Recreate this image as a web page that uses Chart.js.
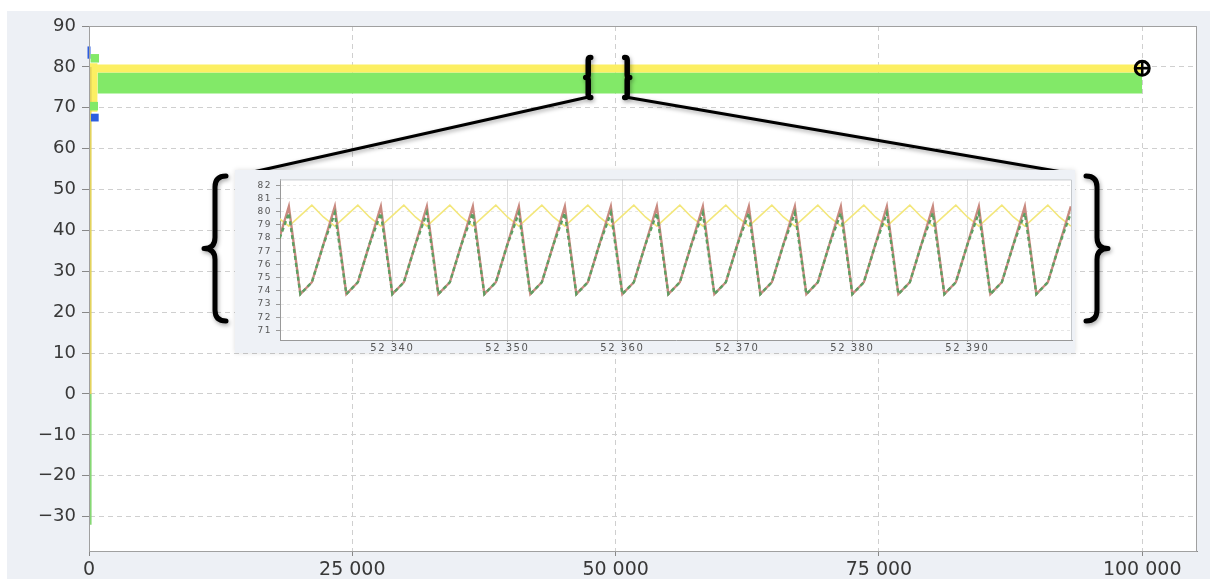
<!DOCTYPE html>
<html><head><meta charset="utf-8">
<script src="https://cdn.jsdelivr.net/npm/chart.js@4.4.1/dist/chart.umd.min.js"></script>
<style>
html,body{margin:0;padding:0;background:#fff;width:1218px;height:581px;overflow:hidden;}
#panel{position:absolute;left:7px;top:11px;width:1203px;height:568px;background:#edf0f5;}
#main{position:absolute;left:0;top:0;}
#inset{position:absolute;left:235px;top:170px;width:840px;height:183px;background:#eef1f6;box-shadow:0 0 5px rgba(0,0,0,0.13);}
#insetCanvas{position:absolute;left:0;top:0;}
</style></head><body>
<div id="panel"></div>
<canvas id="main" width="1218" height="581"></canvas>
<div id="inset"><canvas id="insetCanvas" width="840" height="183"></canvas></div>
<script>
// ---------- main chart data ----------
const yTickValues = [-30,-20,-10,0,10,20,30,40,50,60,70,80,90];
const xTickValues = [0,25000,50000,75000,100000];
const yellowBandX    = [0, 800, 800, 100000];
const yellowBandHigh = [80.9, 80.9, 80.6, 80.6];
const yellowBandLow  = [69.0, 69.0, 78.6, 78.6];
const greenBandX     = [800, 100000];
const greenBandHigh  = [78.6, 78.6];
const greenBandLow   = [73.5, 73.5];
const startSpikeX    = [150, 150];
const yellowSpikeY   = [80, 0];
const greenSpikeY    = [0, -32];
const blueSpikeX     = [0, 0];
const blueSpikeY     = [82, 85];
const blueDotX       = [550];
const blueDotY       = [67.6];
const greenDotX      = [550, 450];
const greenDotY      = [82.1, 70.4];
const endMarkerX     = [100000];
const endMarkerY     = [79.65];

// ---------- inset (zoom) data ----------
const insetXTicks = [52340,52350,52360,52370,52380,52390];
const insetYTicks = [71,72,73,74,75,76,77,78,79,80,81,82];
const insetX = [
 52330,52331,52332,52333,52334,52335,52336,52337,52338,52339,
 52340,52341,52342,52343,52344,52345,52346,52347,52348,52349,
 52350,52351,52352,52353,52354,52355,52356,52357,52358,52359,
 52360,52361,52362,52363,52364,52365,52366,52367,52368,52369,
 52370,52371,52372,52373,52374,52375,52376,52377,52378,52379,
 52380,52381,52382,52383,52384,52385,52386,52387,52388,52389,
 52390,52391,52392,52393,52394,52395,52396,52397,52398,52399];
const insetGreen = [
 77.5,79.9,73.75,74.65, 77.5,79.9,73.75,74.65, 77.5,79.9,73.75,74.65,
 77.5,79.9,73.75,74.65, 77.5,79.9,73.75,74.65, 77.5,79.9,73.75,74.65,
 77.5,79.9,73.75,74.65, 77.5,79.9,73.75,74.65, 77.5,79.9,73.75,74.65,
 77.5,79.9,73.75,74.65, 77.5,79.9,73.75,74.65, 77.5,79.9,73.75,74.65,
 77.5,79.9,73.75,74.65, 77.5,79.9,73.75,74.65, 77.5,79.9,73.75,74.65,
 77.5,79.9,73.75,74.65, 77.5,79.9,73.75,74.65, 77.5,79.9];
const insetRed = [
 77.5,80.4,73.75,74.65, 77.5,80.4,73.75,74.65, 77.5,80.4,73.75,74.65,
 77.5,80.4,73.75,74.65, 77.5,80.4,73.75,74.65, 77.5,80.4,73.75,74.65,
 77.5,80.4,73.75,74.65, 77.5,80.4,73.75,74.65, 77.5,80.4,73.75,74.65,
 77.5,80.4,73.75,74.65, 77.5,80.4,73.75,74.65, 77.5,80.4,73.75,74.65,
 77.5,80.4,73.75,74.65, 77.5,80.4,73.75,74.65, 77.5,80.4,73.75,74.65,
 77.5,80.4,73.75,74.65, 77.5,80.4,73.75,74.65, 77.5,80.4];
const insetYellow = [
 79.6,78.9,79.7,80.5, 79.6,78.9,79.7,80.5, 79.6,78.9,79.7,80.5,
 79.6,78.9,79.7,80.5, 79.6,78.9,79.7,80.5, 79.6,78.9,79.7,80.5,
 79.6,78.9,79.7,80.5, 79.6,78.9,79.7,80.5, 79.6,78.9,79.7,80.5,
 79.6,78.9,79.7,80.5, 79.6,78.9,79.7,80.5, 79.6,78.9,79.7,80.5,
 79.6,78.9,79.7,80.5, 79.6,78.9,79.7,80.5, 79.6,78.9,79.7,80.5,
 79.6,78.9,79.7,80.5, 79.6,78.9,79.7,80.5, 79.6,78.9];

const pts = (xs, ys) => xs.map((x, i) => ({x: x, y: ys[i]}));
const spaced = v => String(v).replace(/\B(?=(\d{3})+(?!\d))/g, ' ');
const FONT = "'DejaVu Sans', sans-serif";

const YELLOW = '#fcef62', GREEN = '#82e968';

function brace(ctx, xs, y1, y2, dir, w) {
  const m = (y1 + y2) / 2, h = w / 2;
  ctx.beginPath();
  ctx.moveTo(xs - dir * h, y1);
  ctx.quadraticCurveTo(xs, y1, xs, y1 + h);
  ctx.lineTo(xs, m - h);
  ctx.quadraticCurveTo(xs, m, xs + dir * h, m);
  ctx.quadraticCurveTo(xs, m, xs, m + h);
  ctx.lineTo(xs, y2 - h);
  ctx.quadraticCurveTo(xs, y2, xs - dir * h, y2);
  ctx.stroke();
}

const mainDecor = {
  id: 'mainDecor',
  beforeDraw(chart) {
    const {ctx, chartArea: a} = chart;
    ctx.save(); ctx.fillStyle = '#fff';
    ctx.fillRect(a.left, a.top, a.right - a.left, a.bottom - a.top);
    ctx.restore();
  },
  afterDraw(chart) {
    const {ctx, chartArea: a, scales} = chart;
    ctx.save();
    ctx.strokeStyle = '#a0a0a0'; ctx.lineWidth = 1;
    ctx.strokeRect(a.left + 0.5, a.top + 0.5, a.right - a.left - 1, a.bottom - a.top);
    // break marks + connector lines + braces
    const xL = scales.x.getPixelForValue(47400), xR = scales.x.getPixelForValue(51100);
    const yT = scales.y.getPixelForValue(82.3), yB = scales.y.getPixelForValue(72.5);
    ctx.strokeStyle = '#000'; ctx.lineCap = 'round'; ctx.lineJoin = 'round';
    ctx.shadowColor = 'rgba(0,0,0,0.35)'; ctx.shadowBlur = 4; ctx.shadowOffsetX = 1; ctx.shadowOffsetY = 2;
    ctx.lineWidth = 5.5;
    brace(ctx, xL, yT, yB, -1, 5);
    brace(ctx, xR, yT, yB, 1, 5);
    ctx.lineWidth = 3;
    ctx.beginPath(); ctx.moveTo(xL - 2, yB); ctx.lineTo(253, 172); ctx.stroke();
    ctx.beginPath(); ctx.moveTo(xR + 1, yB); ctx.lineTo(1062, 172); ctx.stroke();
    ctx.lineWidth = 5;
    brace(ctx, 215, 176, 321, -1, 22);
    brace(ctx, 1097, 176, 321, 1, 22);
    ctx.restore();
  }
};

new Chart(document.getElementById('main'), {
  type: 'line',
  data: {
    datasets: [
      {data: pts(endMarkerX, endMarkerY), showLine: false, pointStyle: 'cross', pointRadius: 7, borderColor: '#000', borderWidth: 2.5, clip: false},
      {data: pts(endMarkerX, endMarkerY), showLine: false, pointStyle: 'circle', pointRadius: 7, borderColor: '#000', backgroundColor: 'rgba(0,0,0,0)', borderWidth: 3, clip: false},
      {data: pts(blueDotX, blueDotY), showLine: false, pointStyle: 'rect', pointRadius: 5.5, backgroundColor: '#2c5de0', borderWidth: 0},
      {data: pts(greenDotX, greenDotY), showLine: false, pointStyle: 'rect', pointRadius: 6, backgroundColor: GREEN, borderWidth: 0},
      {data: pts(blueSpikeX, blueSpikeY), borderColor: '#2c5de0', borderWidth: 3, pointRadius: 0, clip: false},
      {data: pts(startSpikeX, yellowSpikeY), borderColor: '#e3d35c', borderWidth: 2, pointRadius: 0},
      {data: pts(startSpikeX, greenSpikeY), borderColor: '#86d874', borderWidth: 2, pointRadius: 0},
      {data: pts(yellowBandX, yellowBandHigh), borderWidth: 0, pointRadius: 0, fill: '+1', backgroundColor: YELLOW, borderColor: YELLOW},
      {data: pts(yellowBandX, yellowBandLow), borderWidth: 0, pointRadius: 0, borderColor: YELLOW},
      {data: pts(greenBandX, greenBandHigh), borderWidth: 0, pointRadius: 0, fill: '+1', backgroundColor: GREEN, borderColor: GREEN},
      {data: pts(greenBandX, greenBandLow), borderWidth: 0, pointRadius: 0, borderColor: GREEN}
    ]
  },
  options: {
    responsive: false, animation: false, parsing: false,
    layout: {padding: {left: 0, top: 26, right: 21, bottom: 0}},
    plugins: {legend: {display: false}, tooltip: {enabled: false}},
    elements: {line: {tension: 0}},
    scales: {
      x: {
        type: 'linear', min: 0, max: 105200,
        afterBuildTicks: s => { s.ticks = xTickValues.map(v => ({value: v})); },
        afterFit: s => { s.height = 30; },
        ticks: {callback: v => spaced(v), font: {family: FONT, size: 19}, color: '#383838', padding: 3, maxRotation: 0, autoSkip: false},
        grid: {color: '#cfcfcf', tickColor: '#888', tickLength: 5, lineWidth: 1},
        border: {color: '#888', width: 1, dash: [5, 4]}
      },
      y: {
        type: 'linear', min: -38.4, max: 90,
        afterBuildTicks: s => { s.ticks = yTickValues.map(v => ({value: v})); },
        afterFit: s => { s.width = 89; },
        ticks: {callback: v => v < 0 ? '\u2212' + Math.abs(v) : String(v), font: {family: FONT, size: 18}, color: '#383838', padding: 6, autoSkip: false},
        grid: {color: '#cfcfcf', tickColor: '#888', tickLength: 7, lineWidth: 1},
        border: {color: '#888', width: 1, dash: [5, 4]}
      }
    }
  },
  plugins: [mainDecor]
});

const insetDecor = {
  id: 'insetDecor',
  beforeDraw(chart) {
    const {ctx, chartArea: a} = chart;
    ctx.letterSpacing = '1.5px';
    ctx.save(); ctx.fillStyle = '#fff';
    ctx.fillRect(a.left, a.top, a.right - a.left, a.bottom - a.top);
    ctx.restore();
  },
  afterDraw(chart) {
    const {ctx, chartArea: a} = chart;
    ctx.save(); ctx.strokeStyle = '#c4c8cc'; ctx.lineWidth = 1;
    ctx.beginPath(); ctx.moveTo(a.left, a.top + 0.5); ctx.lineTo(a.right - 0.5, a.top + 0.5); ctx.lineTo(a.right - 0.5, a.bottom); ctx.stroke();
    ctx.restore();
  }
};

new Chart(document.getElementById('insetCanvas'), {
  type: 'line',
  data: {
    datasets: [
      {data: pts(insetX, insetGreen), borderColor: '#5c9f62', borderWidth: 2.4, borderDash: [4, 3], pointRadius: 0},
      {data: pts(insetX, insetRed), borderColor: '#c98a80', borderWidth: 2.4, pointRadius: 0},
      {data: pts(insetX, insetYellow), borderColor: '#f3e77c', borderWidth: 1.6, pointRadius: 0}
    ]
  },
  options: {
    responsive: false, animation: false, parsing: false,
    layout: {padding: {left: 0, top: 4, right: 3, bottom: 0}},
    plugins: {legend: {display: false}, tooltip: {enabled: false}},
    elements: {line: {tension: 0}},
    scales: {
      x: {
        type: 'linear', min: 52330.23, max: 52399.1,
        afterBuildTicks: s => { s.ticks = insetXTicks.map(v => ({value: v})); },
        afterFit: s => { s.height = 13; },
        ticks: {callback: v => spaced(v), font: {family: FONT, size: 10}, color: '#555', padding: 0, maxRotation: 0, autoSkip: false},
        grid: {color: '#dedede', tickLength: 2, tickColor: '#999'},
        border: {color: '#999', width: 1}
      },
      y: {
        type: 'linear', min: 70.27, max: 82.45,
        afterBuildTicks: s => { s.ticks = insetYTicks.map(v => ({value: v})); },
        afterFit: s => { s.width = 45; },
        ticks: {font: {family: FONT, size: 9}, color: '#555', padding: 4, autoSkip: false},
        grid: {color: '#e6e6e6', tickLength: 4, tickColor: '#999'},
        border: {color: '#999', width: 1, dash: [3, 3]}
      }
    }
  },
  plugins: [insetDecor]
});
</script>
</body></html>
